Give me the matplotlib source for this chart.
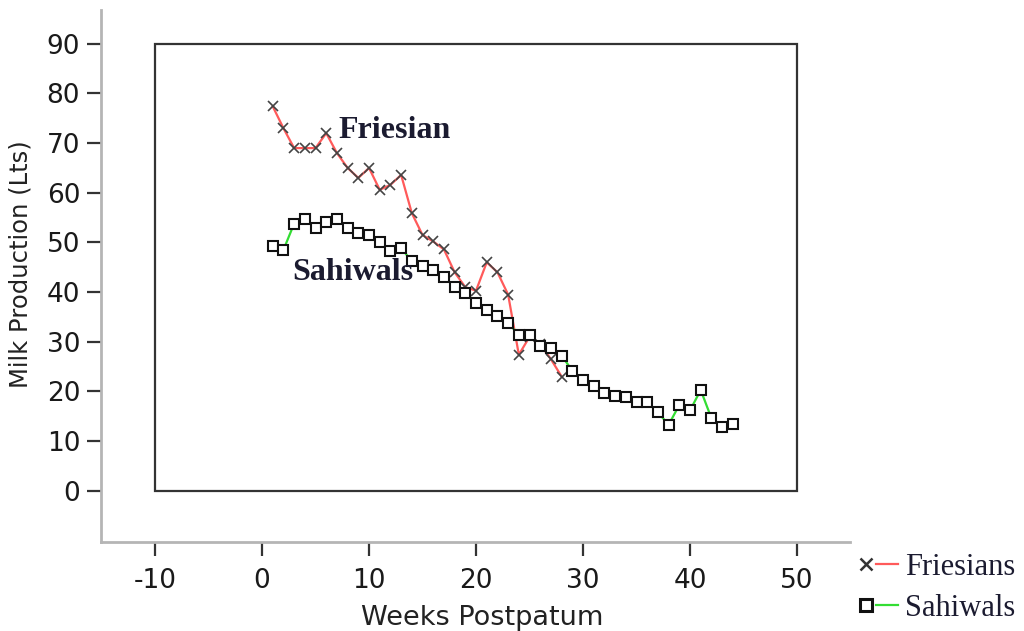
import matplotlib
matplotlib.use("Agg")
import matplotlib.pyplot as plt
from matplotlib.lines import Line2D
from matplotlib.patches import Rectangle
from matplotlib.legend_handler import HandlerTuple

# weekly milk yield (litres) after calving
friesian_weeks = list(range(1, 29))
friesian_milk = [77.4, 73.0, 69.0, 69.0, 69.0, 72.0, 68.0, 65.0, 63.0, 65.0,
                 60.6, 61.6, 63.6, 55.9, 51.5, 50.2, 48.6, 44.0, 41.0, 40.3,
                 46.0, 44.0, 39.5, 27.4, 31.0, 29.5, 26.5, 23.0]

sahiwal_weeks = list(range(1, 45))
sahiwal_milk = [49.2, 48.5, 53.8, 54.7, 52.9, 54.2, 54.7, 52.9, 52.0, 51.5,
                50.0, 48.2, 48.9, 46.2, 45.3, 44.4, 43.0, 41.1, 39.8, 37.8,
                36.4, 35.2, 33.8, 31.4, 31.4, 29.1, 28.7, 27.2, 24.2, 22.4,
                21.1, 19.6, 19.1, 18.8, 17.8, 17.8, 15.8, 13.3, 17.3, 16.2,
                20.3, 14.6, 12.9, 13.5]

x_ticks = [-10, 0, 10, 20, 30, 40, 50]
y_ticks = [0, 10, 20, 30, 40, 50, 60, 70, 80, 90]

plt.rcParams["font.family"] = ["DejaVu Sans"]

fig = plt.figure(figsize=(10.24, 6.31), dpi=100)
ax = fig.add_axes([101 / 1024, 1 - 542 / 631, 749 / 1024, 532 / 631])
ax.set_xlim(-15.05, 54.95)
ax.set_ylim(-10.3, 96.8)

# frame around the plotting region
ax.add_patch(Rectangle((-10, 0), 60, 90, fill=False, edgecolor="#333333",
                       linewidth=1.6, zorder=1))

ax.plot(friesian_weeks, friesian_milk, color="#ff5a5a", lw=1.6, zorder=2)
ax.plot(friesian_weeks, friesian_milk, ls="none", marker="x", ms=6.5, mew=1.2,
        color="#444444", zorder=3)
ax.plot(sahiwal_weeks, sahiwal_milk, color="#33dd33", lw=1.6, zorder=2)
ax.plot(sahiwal_weeks, sahiwal_milk, ls="none", marker="s", ms=7.5, mew=1.5,
        mfc="white", mec="#111111", zorder=3)

serif = ["Liberation Serif", "DejaVu Serif"]
ax.text(7.1, 71.0, "Friesian", family=serif, fontweight="bold", fontsize=23,
        color="#1b1b30", va="baseline", ha="left")
ax.text(2.8, 42.4, "Sahiwals", family=serif, fontweight="bold", fontsize=23,
        color="#1b1b30", va="baseline", ha="left")

for side in ("top", "right"):
    ax.spines[side].set_visible(False)
for side in ("left", "bottom"):
    ax.spines[side].set_color("#b5b5b5")
    ax.spines[side].set_linewidth(2)

ax.set_xticks(x_ticks)
ax.set_yticks(y_ticks)
ax.set_xticklabels([str(v) for v in x_ticks])
ax.tick_params(axis="both", direction="out", color="#333333", width=1.6,
               labelcolor="#1a1a1a", labelsize=19)
ax.tick_params(axis="y", length=10, pad=5)
ax.tick_params(axis="x", length=10, pad=9)

ax.set_xlabel("Weeks Postpatum", fontsize=19.5, color="#222222")
ax.set_ylabel("Milk Production (Lts)", fontsize=17.5, color="#222222")
ax.xaxis.set_label_coords(0.509, -0.118)
ax.yaxis.set_label_coords(-0.092, 0.523)

# legend: marker on the left, line segment on the right
fr_mark = Line2D([], [], ls="none", marker="x", ms=9, mew=1.8, color="#333333")
fr_line = Line2D([], [], color="#ff5a5a", lw=1.6)
sa_mark = Line2D([], [], ls="none", marker="s", ms=8, mew=2.2, mfc="white",
                 mec="#111111")
sa_line = Line2D([], [], color="#33dd33", lw=1.6)
leg = ax.legend([(fr_mark, fr_line), (sa_mark, sa_line)], ["Friesians", "Sahiwals"],
                handler_map={tuple: HandlerTuple(ndivide=None, pad=0)},
                loc="upper left", bbox_to_anchor=(855 / 1024, 1 - 553 / 631),
                bbox_transform=fig.transFigure, frameon=False, borderpad=0,
                borderaxespad=0, handlelength=1.4, handletextpad=0.25,
                labelspacing=0.38, prop={"family": serif, "size": 22})
for t in leg.get_texts():
    t.set_color("#1b1b30")

fig.savefig("out.png", dpi=100)
